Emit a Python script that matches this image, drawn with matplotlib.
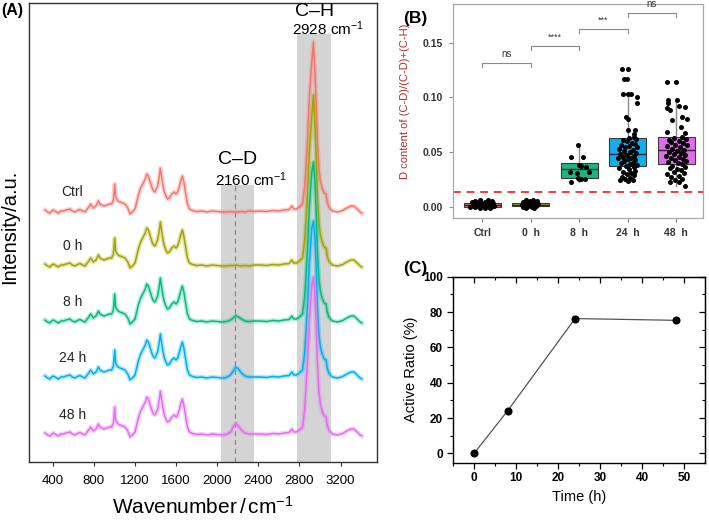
import numpy as np
import matplotlib
matplotlib.use("Agg")
from matplotlib import pyplot as plt
from matplotlib.ticker import MultipleLocator

plt.rcParams['font.family'] = ['Liberation Sans', 'DejaVu Sans']
plt.rcParams['mathtext.fontset'] = 'custom'
plt.rcParams['mathtext.rm'] = 'Liberation Sans'
plt.rcParams['mathtext.it'] = 'Liberation Sans:italic'
plt.rcParams['mathtext.bf'] = 'Liberation Sans:bold'

# ---------------- panel A data (Raman spectra, heights in a.u.) ----------------
samples = ["Ctrl", "0 h", "8 h", "24 h", "48 h"]
colors = ["#F8766D", "#A3A500", "#00BF7D", "#00B0F6", "#E76BF3"]
offsets = [250, 196, 140, 84, 27]

fp_wn = [325, 350, 374, 390, 406, 430, 455, 480, 503, 530,
         568, 590, 617, 640, 665, 690, 714, 735, 750, 769,
         782, 795, 820, 844, 860, 876, 900, 925, 950, 973,
         990, 1003, 1012, 1022, 1035, 1054, 1080, 1103, 1130, 1152,
         1175, 1200, 1233, 1255, 1275, 1300, 1314, 1330, 1345, 1363,
         1380, 1395, 1420, 1435, 1447, 1458, 1470, 1483, 1500, 1516,
         1535, 1558, 1580, 1600, 1615, 1630, 1645, 1661, 1675, 1694,
         1710, 1730, 1760, 1800, 1850, 1900, 1950, 2000, 2050]
fp_int = [2, 0, -1, 1, 2, 0.5, -1, 1, 1, 2,
          3, 1, 0, 1.5, 2.5, 1, 0, 3, 5, 8,
          6, 4, 6, 11, 8, 7, 6, 7, 8, 8,
          12, 28, 15, 13, 11, 10, 9, 8, 4, -2,
          0, 3, 17, 24, 28, 33, 38, 36, 31, 25,
          21, 20, 26, 35, 44, 36, 28, 21, 16, 13,
          14, 18, 20, 18, 20, 25, 31, 36, 30, 18,
          8, 3, 1.5, 0.5, 1, 0, 1, 0.5, 0]

cd_wn = [2090, 2130, 2155, 2180, 2205, 2235, 2270, 2310, 2360]
cd_int = [
    [0, 0.5, 0, 0.5, 0, 0.5, 0, 1, 0.5],
    [0, 0.5, 0.5, 1, 0.5, 0, 0.5, 0, 1],
    [0.5, 2, 4, 6.5, 5, 3, 1, 0.5, 1],
    [0.5, 3, 7, 11, 9, 5, 2, 1, 1],
    [0.5, 3, 8, 12, 9, 5, 2, 1, 1],
]

mid_wn = [2420, 2480, 2540, 2600, 2650, 2700, 2725, 2745, 2770]
mid_int = [1, 0.5, 1.5, 1, 2, 2.5, 6, 3, 3]

ch_wn_lo = [2800, 2830, 2850, 2865, 2880, 2896, 2910, 2920]
ch_int_lo = [5, 8, 25, 50, 78, 115, 135, 150]
ch_apex_wn = 2935
ch_apex = [170, 171, 160, 157, 158]
ch_wn_hi = [2950, 2962, 2975, 2990, 3005, 3020, 3040, 3058, 3070, 3085,
            3120, 3170, 3220, 3260, 3300, 3330, 3360, 3390, 3405]
ch_int_hi = [140, 110, 70, 42, 30, 24, 19, 18, 10, 5,
             1, 0, 1.5, 4, 6, 6, 3, 0, -1]

# ---------------- panel B data ----------------
groups = ["Ctrl", "0  h", "8  h", "24  h", "48  h"]
box_q1 = [0.0006, 0.0008, 0.0264, 0.0377, 0.0394]
box_med = [0.0018, 0.0020, 0.0346, 0.0490, 0.0525]
box_q3 = [0.0036, 0.0035, 0.0406, 0.0630, 0.0640]
whis_lo = [-0.0008, -0.0006, 0.0233, 0.0240, 0.0196]
whis_hi = [0.0072, 0.0068, 0.0567, 0.1002, 0.0978]
box_colors = ["#D9736C", "#A3A52A", "#1DB57F", "#12AEEF", "#DE6EE8"]

ctrl_y = [0.0070, 0.0065, 0.0062, 0.0058, 0.0052, 0.0048, 0.0045, 0.0042, 0.0038, 0.0035,
          0.0032, 0.0030, 0.0027, 0.0024, 0.0022, 0.0020, 0.0018, 0.0016, 0.0013, 0.0010,
          0.0008, 0.0005, 0.0002, -0.0002, -0.0005, -0.0008, 0.0003, 0.0012]
ctrl_dx = [0.12, -0.05, 0.20, -0.15, 0.05, 0.18, -0.22, 0.10, -0.08, 0.22,
           0.00, -0.18, 0.15, -0.12, 0.08, -0.02, 0.20, -0.20, 0.03, 0.13,
           -0.10, 0.18, -0.16, 0.06, -0.04, 0.16, -0.25, 0.24]
h0_y = [0.0068, 0.0064, 0.0060, 0.0055, 0.0050, 0.0046, 0.0043, 0.0040, 0.0036, 0.0033,
        0.0030, 0.0028, 0.0025, 0.0022, 0.0020, 0.0017, 0.0015, 0.0012, 0.0010, 0.0008,
        0.0005, 0.0002, -0.0001, -0.0004, -0.0008, 0.0014, 0.0031]
h0_dx = [0.05, -0.10, 0.12, -0.02, 0.08, -0.15, 0.02, 0.10, -0.08, 0.14,
         -0.12, 0.04, -0.18, 0.09, -0.04, 0.13, -0.14, 0.06, -0.06, 0.11,
         -0.10, 0.03, -0.16, 0.07, -0.09, 0.00, -0.03]
h8_y = [0.0567, 0.0461, 0.0461, 0.0385, 0.0376, 0.0364, 0.0324, 0.0319, 0.0310, 0.0233,
        0.0264, 0.0258, 0.0255, 0.0260]
h8_dx = [-0.02, -0.17, 0.07, 0.00, 0.04, 0.15, 0.20, -0.19, -0.05, -0.16,
         -0.03, 0.04, 0.00, 0.12]
h24_y = [0.1257, 0.1257, 0.1166, 0.1166, 0.1032, 0.1032, 0.1032, 0.1002, 0.0953, 0.0826,
         0.0805, 0.0704, 0.0704, 0.0668,
         0.0640, 0.0632, 0.0620, 0.0612, 0.0600, 0.0590, 0.0580, 0.0572, 0.0562, 0.0550,
         0.0545, 0.0535, 0.0525, 0.0515, 0.0505, 0.0498, 0.0490, 0.0480, 0.0470, 0.0462,
         0.0452, 0.0445, 0.0436, 0.0428, 0.0418, 0.0408, 0.0400, 0.0392, 0.0384, 0.0375,
         0.0365, 0.0355, 0.0345, 0.0335, 0.0325, 0.0312, 0.0300, 0.0290, 0.0280, 0.0268,
         0.0255, 0.0248, 0.0245, 0.0240]
h24_dx = [-0.11, 0.00, -0.07, -0.01, -0.09, 0.01, 0.07, 0.19, 0.20, -0.04,
          0.00, 0.01, 0.15, 0.14,
          0.12, 0.03, 0.17, -0.10, -0.02, 0.08, 0.16, -0.14, 0.02, -0.06,
          0.20, -0.18, 0.10, -0.08, 0.05, 0.18, -0.15, -0.02, 0.13, -0.10,
          0.07, -0.19, 0.00, 0.16, -0.07, 0.10, -0.13, 0.04, 0.19, -0.04,
          0.12, -0.17, 0.02, 0.15, -0.09, 0.07, -0.02, 0.14, -0.12, 0.05,
          -0.05, 0.10, -0.15, 0.01]
h48_y = [0.1143, 0.1143, 0.0978, 0.0978, 0.0948, 0.0924, 0.0902, 0.0887, 0.0911, 0.0826,
         0.0802, 0.0796, 0.0735, 0.0690, 0.0674,
         0.0640, 0.0632, 0.0622, 0.0612, 0.0602, 0.0592, 0.0582, 0.0572, 0.0565, 0.0555,
         0.0545, 0.0535, 0.0525, 0.0515, 0.0505, 0.0495, 0.0485, 0.0475, 0.0468, 0.0458,
         0.0448, 0.0438, 0.0428, 0.0420, 0.0410, 0.0400, 0.0390, 0.0380, 0.0370, 0.0360,
         0.0350, 0.0338, 0.0325, 0.0312, 0.0300, 0.0288, 0.0275, 0.0262, 0.0250, 0.0235,
         0.0228, 0.0196]
h48_dx = [-0.19, 0.00, -0.17, 0.01, -0.16, 0.05, -0.19, -0.12, 0.19, 0.13,
          0.22, -0.08, 0.10, -0.19, 0.19,
          0.12, -0.05, 0.20, -0.15, 0.05, -0.10, 0.15, -0.02, 0.22, -0.18,
          0.08, -0.08, 0.16, 0.02, -0.14, 0.10, -0.04, 0.19, -0.20, 0.06,
          -0.10, 0.14, -0.02, 0.21, -0.16, 0.04, 0.12, -0.08, 0.18, -0.13,
          0.02, 0.10, -0.05, 0.16, -0.18, 0.06, -0.10, 0.13, -0.03, 0.05,
          -0.12, 0.19]
threshold = 0.0142
sig_pairs = [(0, 1), (1, 2), (2, 3), (3, 4)]
sig_levels = [0.131, 0.147, 0.162, 0.177]
sig_labels = ["ns", "****", "***", "ns"]

# ---------------- panel C data ----------------
time_h = [0, 8, 24, 48]
active_ratio = [0.0, 24.2, 76.3, 75.3]
active_err = [0.3, 0.6, 1.5, 0.8]

fig = plt.figure(figsize=(7.09, 5.24), dpi=100)

# ================= panel A =================
axA = fig.add_axes([29.3 / 709, 1 - 462 / 524, 347.4 / 709, 459 / 524])
axA.set_xlim(172, 3551)
axA.set_ylim(0, 459)
axA.axvspan(2040, 2360, ymin=0, ymax=277 / 459, color="#D4D4D4", lw=0, zorder=0)
axA.axvspan(2780, 3102, ymin=0, ymax=428 / 459, color="#D4D4D4", lw=0, zorder=0)
axA.plot([2168, 2168], [0, 277], ls=(0, (4, 3)), color="#8A8A8A", lw=0.9, zorder=1)

for i, name in enumerate(samples):
    wn = fp_wn + cd_wn + mid_wn + ch_wn_lo + [ch_apex_wn] + ch_wn_hi
    inten = fp_int + cd_int[i] + mid_int + ch_int_lo + [ch_apex[i]] + ch_int_hi
    y = np.array(inten) + offsets[i]
    axA.plot(wn, y, color=colors[i], lw=3.2, alpha=0.3, zorder=2 + i)
    axA.plot(wn, y, color=colors[i], lw=1.1, zorder=2 + i)
    axA.text(590, offsets[i] + 13, name, ha="center", va="bottom", fontsize=10, color="#222222")

axA.text(2193, 302, "C–D", ha="center", va="center", fontsize=14)
axA.text(2329, 282, "2160 cm$^{-1}$", ha="center", va="center", fontsize=11)
axA.text(2942, 451, "C–H", ha="center", va="center", fontsize=14)
axA.text(3078, 433, "2928 cm$^{-1}$", ha="center", va="center", fontsize=11)

axA.set_xticks([400, 800, 1200, 1600, 2000, 2400, 2800, 3200])
axA.set_yticks([])
axA.tick_params(axis="x", direction="out", length=3, width=0.8, labelsize=9.5, pad=6, color="#333333")
for sp in axA.spines.values():
    sp.set_color("#333333")
    sp.set_linewidth(1.0)
axA.set_xlabel("Wavenumber$\\,$/$\\,$cm$^{-1}$", fontsize=15, labelpad=7)
fig.text(10 / 709, 1 - 227 / 524, "Intensity/a.u.", rotation=90, ha="center", va="center", fontsize=14.5)
fig.text(1 / 709, 1 - 11 / 524, "(A)", ha="left", va="center", fontsize=11.5, fontweight="bold")

# ================= panel B =================
axB = fig.add_axes([452.7 / 709, 1 - 218 / 524, 250.6 / 709, 214 / 524])
axB.set_xlim(-0.61, 4.56)
axB.set_ylim(-0.0097, 0.1851)
stats = []
for i in range(len(groups)):
    stats.append(dict(med=box_med[i], q1=box_q1[i], q3=box_q3[i],
                      whislo=whis_lo[i], whishi=whis_hi[i], fliers=[]))
bp = axB.bxp(stats, positions=range(len(groups)), widths=0.76, patch_artist=True,
             showcaps=False, showfliers=False,
             boxprops=dict(edgecolor="#3A3A3A", linewidth=0.8),
             whiskerprops=dict(color="#8A8A8A", linewidth=1.0),
             medianprops=dict(color="#2A2A2A", linewidth=1.0))
for patch, c in zip(bp["boxes"], box_colors):
    patch.set_facecolor(c)

point_sets = [(ctrl_dx, ctrl_y), (h0_dx, h0_y), (h8_dx, h8_y), (h24_dx, h24_y), (h48_dx, h48_y)]
for i, (dx, yy) in enumerate(point_sets):
    axB.scatter(np.array(dx) + i, yy, s=13, color="black", zorder=5, linewidths=0)

axB.axhline(threshold, color="#E8403F", ls=(0, (4, 3)), lw=1.4, zorder=1)

for (a, b), lev, lab in zip(sig_pairs, sig_levels, sig_labels):
    axB.plot([a, a, b, b], [lev - 0.0035, lev, lev, lev - 0.0035], color="#8A8A8A", lw=0.8)
    axB.text((a + b) / 2, lev + 0.004, lab, ha="center", va="bottom",
             fontsize=7 if lab == "ns" else 6.5, color="#333333")

axB.set_xticks(range(len(groups)))
axB.set_xticklabels(groups)
axB.set_yticks([0.0, 0.05, 0.10, 0.15])
axB.set_yticklabels(["0.00", "0.05", "0.10", "0.15"])
axB.tick_params(direction="out", length=3, width=0.8, color="#8A8A8A", labelsize=7.5,
                labelcolor="#333333", pad=4)
for lab in axB.get_xticklabels() + axB.get_yticklabels():
    lab.set_fontweight("bold")
for sp in axB.spines.values():
    sp.set_color("#A8A8A8")
    sp.set_linewidth(0.9)
fig.text(405 / 709, 1 - 101 / 524, "D content of (C-D)/(C-D)+(C-H)", rotation=90,
         ha="center", va="center", fontsize=8, color="#A5302E")
fig.text(403 / 709, 1 - 18 / 524, "(B)", ha="left", va="center", fontsize=12.5, fontweight="bold")

# ================= panel C =================
axC = fig.add_axes([452.7 / 709, 1 - 462.7 / 524, 252.3 / 709, 186 / 524])
axC.errorbar(time_h, active_ratio, yerr=active_err, color="#555555", lw=0.9,
             marker="o", ms=4.8, mfc="black", mec="black", ecolor="#9A9A9A",
             elinewidth=0.8, capsize=2.5, zorder=3)
axC.set_xlim(-5.1, 54.9)
axC.set_ylim(-5.3, 100)
axC.xaxis.set_major_locator(MultipleLocator(10))
axC.xaxis.set_minor_locator(MultipleLocator(5))
axC.yaxis.set_major_locator(MultipleLocator(20))
axC.yaxis.set_minor_locator(MultipleLocator(10))
axC.tick_params(which="major", direction="out", length=4, width=0.9, labelsize=8.5, pad=3)
axC.tick_params(which="minor", direction="out", length=2.5, width=0.8)
for lab in axC.get_xticklabels() + axC.get_yticklabels():
    lab.set_fontweight("bold")
secx = axC.secondary_xaxis("top")
secx.xaxis.set_major_locator(MultipleLocator(10))
secx.xaxis.set_minor_locator(MultipleLocator(5))
secx.tick_params(which="major", direction="in", length=4, width=0.9, labeltop=False)
secx.tick_params(which="minor", direction="in", length=2.5, width=0.8)
secy = axC.secondary_yaxis("right")
secy.yaxis.set_major_locator(MultipleLocator(20))
secy.yaxis.set_minor_locator(MultipleLocator(10))
secy.tick_params(which="major", direction="in", length=4, width=0.9, labelright=False)
secy.tick_params(which="minor", direction="in", length=2.5, width=0.8)
for sp in axC.spines.values():
    sp.set_linewidth(1.0)
axC.set_xlabel("Time (h)", fontsize=10.5, labelpad=4)
axC.set_ylabel("Active Ratio (%)", fontsize=10.5, labelpad=4)
fig.text(403 / 709, 1 - 268 / 524, "(C)", ha="left", va="center", fontsize=12.5, fontweight="bold")

fig.savefig("out.png", dpi=100)
